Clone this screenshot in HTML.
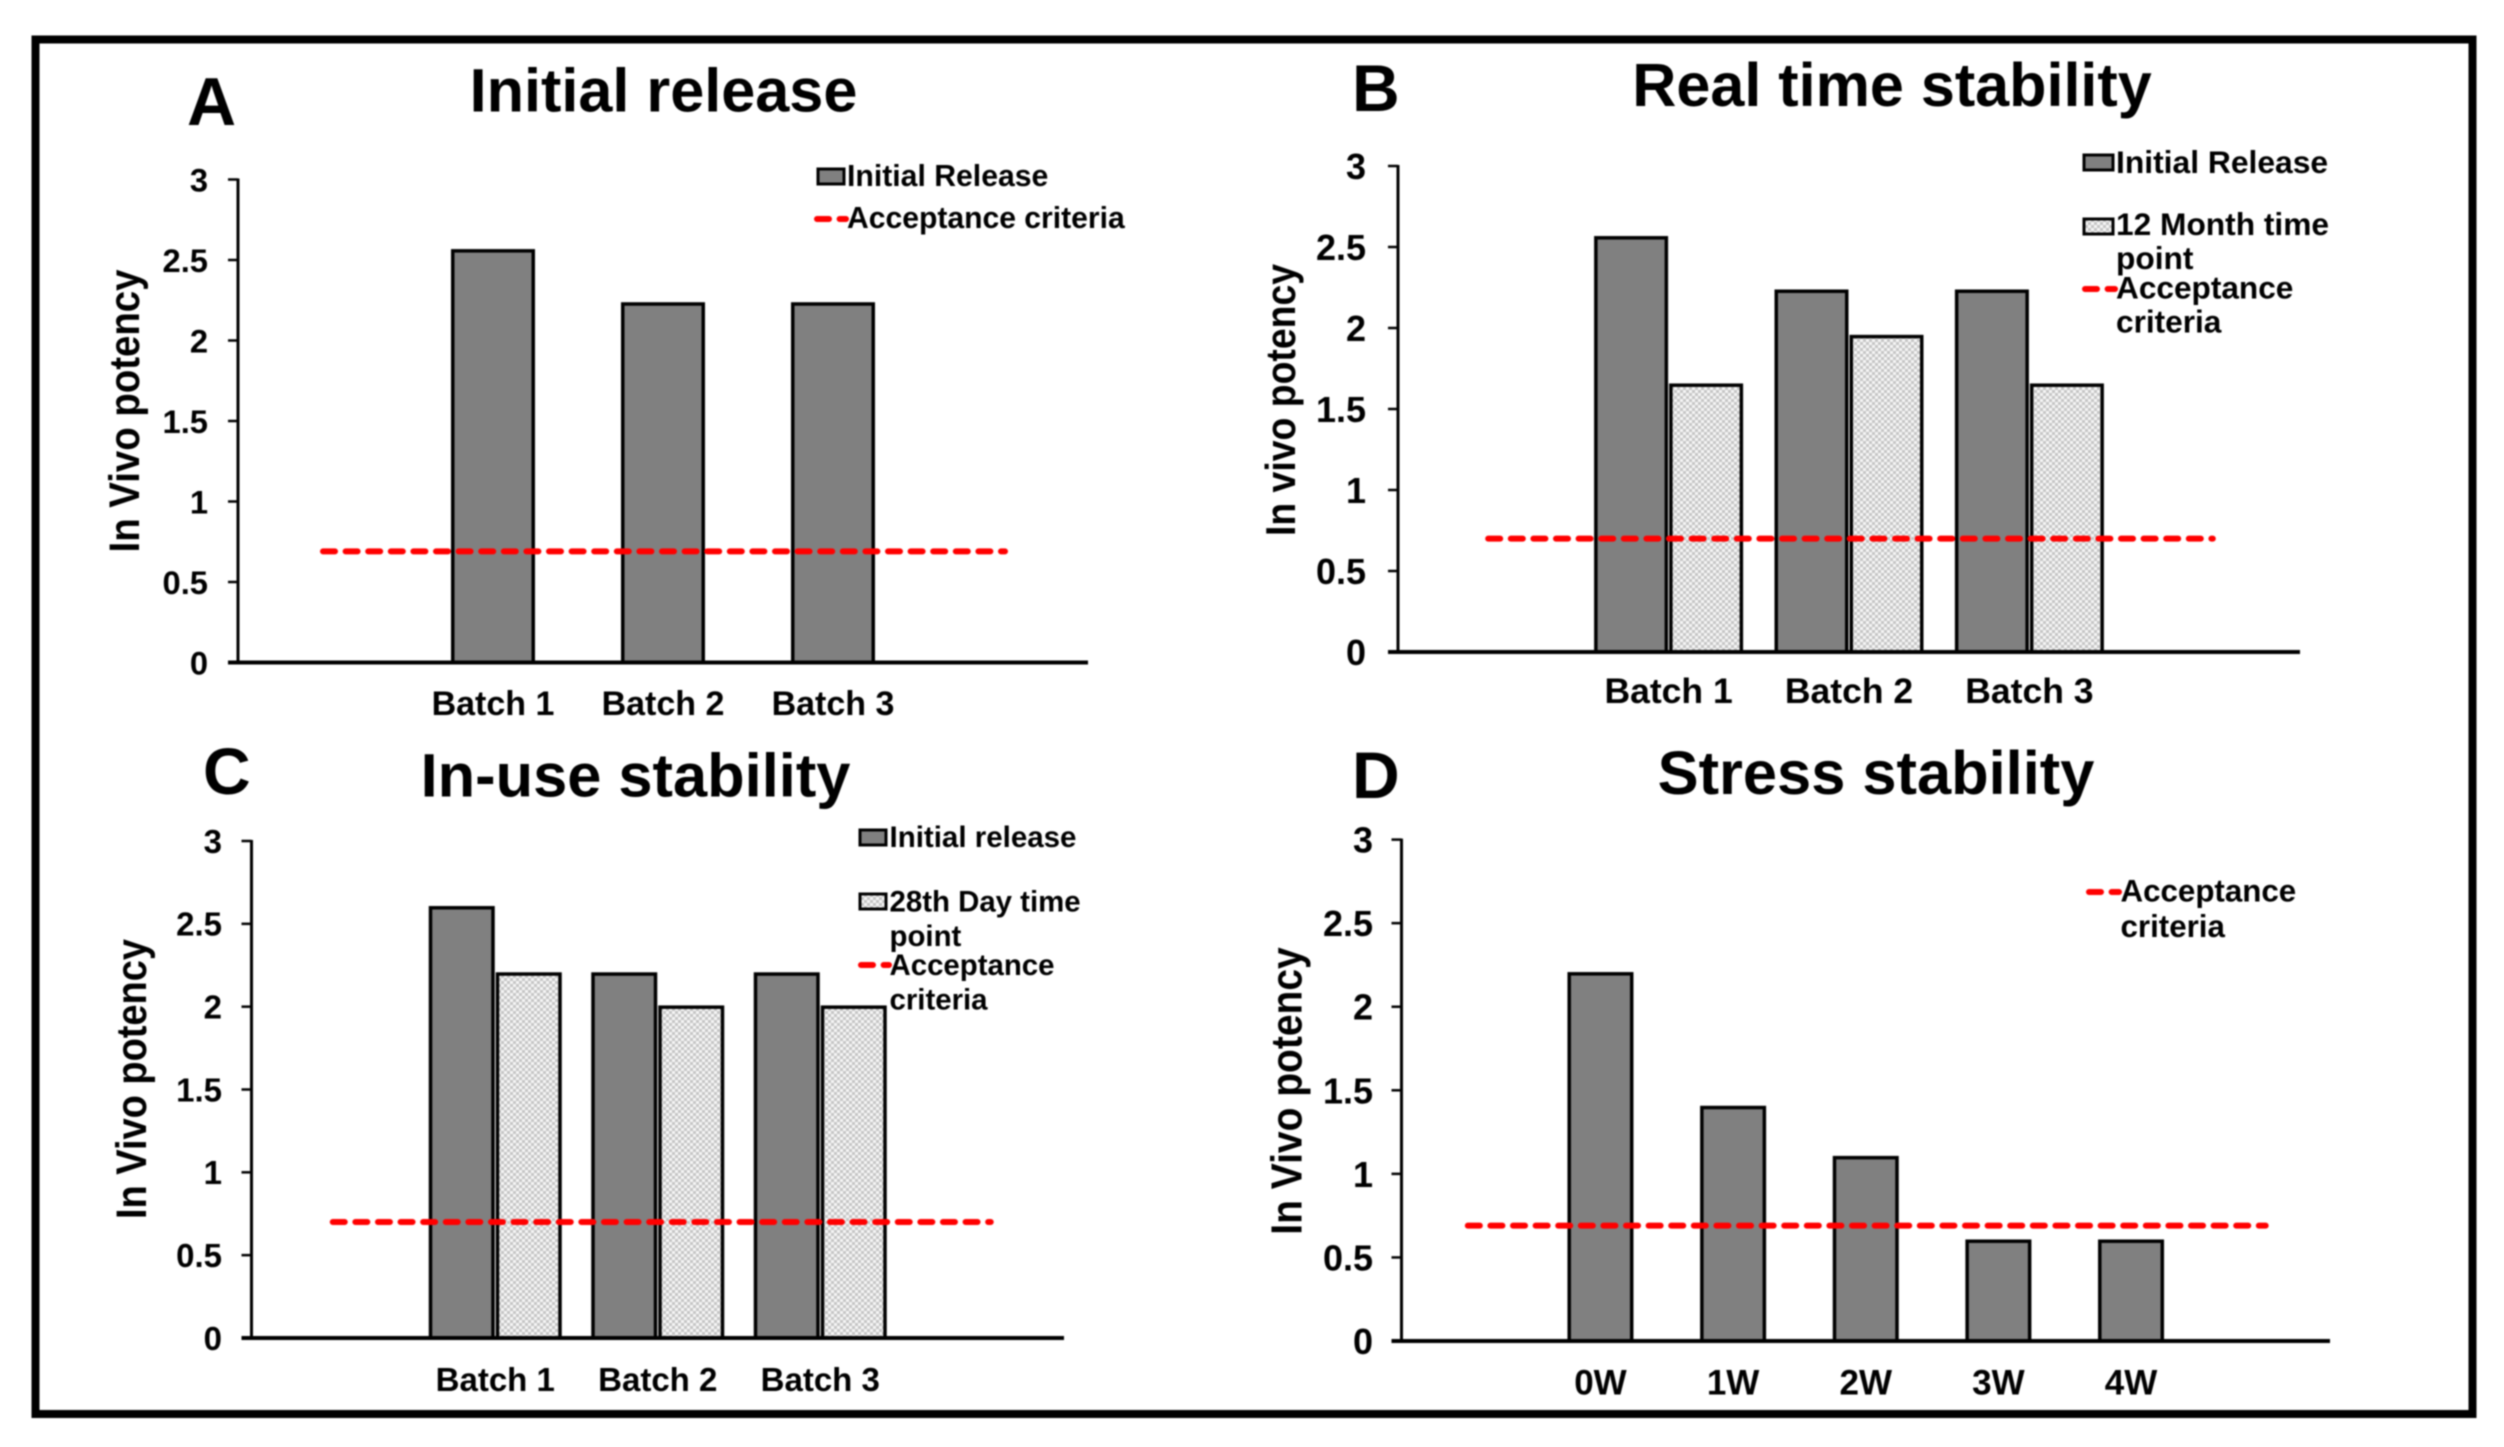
<!DOCTYPE html>
<html lang="en">
<head>
<meta charset="utf-8">
<title>Potency stability charts</title>
<style>
html,body{margin:0;padding:0;background:#fff;width:2504px;height:1447px;overflow:hidden}
svg{display:block;filter:blur(0.7px)}
text{font-family:"Liberation Sans",Arial,sans-serif;font-weight:700;fill:#000}
</style>
</head>
<body>
<svg id="figure" xmlns="http://www.w3.org/2000/svg" width="2504" height="1447" viewBox="0 0 2504 1447">
  <defs>
    <pattern id="dots" width="6" height="6" patternUnits="userSpaceOnUse">
      <rect width="6" height="6" fill="#f6f6f6"/>
      <rect width="3" height="3" fill="#c4c4c4"/>
      <rect x="3" y="3" width="3" height="3" fill="#c4c4c4"/>
    </pattern>
  </defs>
  <rect x="0" y="0" width="2504" height="1447" fill="#fff"/>
  <rect x="35.5" y="39.5" width="2437" height="1374.5" fill="none" stroke="#000" stroke-width="8"/>

  <g>
    <text x="187" y="125" font-size="68">A</text>
    <text x="663.5" y="111.5" font-size="61.2" text-anchor="middle">Initial release</text>
    <text transform="translate(139 411) rotate(-90) scale(1 1.12)" font-size="38.4" text-anchor="middle">In Vivo potency</text>
    <g>
      <rect x="818" y="169" width="26" height="15" fill="#808080" stroke="#000" stroke-width="3"/>
      <text x="847" y="186" font-size="30.2">Initial Release</text>
      <line x1="817" y1="219" x2="846" y2="219" stroke="#f00" stroke-width="6" stroke-dasharray="12 10.6" stroke-linecap="round"/>
      <text x="847" y="228" font-size="30.1">Acceptance criteria</text>
    </g>
  </g>

  <g>
    <text x="1352" y="111" font-size="66">B</text>
    <text x="1892" y="106" font-size="61.1" text-anchor="middle">Real time stability</text>
    <text transform="translate(1295 400) rotate(-90) scale(1 1.12)" font-size="37.4" text-anchor="middle">In vivo potency</text>
    <g>
      <rect x="2084" y="155" width="29" height="15" fill="#808080" stroke="#000" stroke-width="3"/>
      <text x="2116" y="173" font-size="31.8">Initial Release</text>
      <rect x="2084" y="219" width="29" height="15" fill="url(#dots)" stroke="#000" stroke-width="3"/>
      <text x="2116" y="235" font-size="31.7">12 Month time</text>
      <text x="2116" y="269" font-size="31.7">point</text>
      <line x1="2085" y1="289" x2="2115" y2="289" stroke="#f00" stroke-width="6" stroke-dasharray="12 10.6" stroke-linecap="round"/>
      <text x="2116" y="298.5" font-size="31.6">Acceptance</text>
      <text x="2116" y="332.5" font-size="31.6">criteria</text>
    </g>
  </g>

  <g>
    <text x="203" y="794" font-size="66">C</text>
    <text x="635.5" y="796.5" font-size="61.4" text-anchor="middle">In-use stability</text>
    <text transform="translate(146 1079) rotate(-90) scale(1 1.12)" font-size="38" text-anchor="middle">In Vivo potency</text>
    <g>
      <rect x="860" y="830" width="26" height="15" fill="#808080" stroke="#000" stroke-width="3"/>
      <text x="889.5" y="847" font-size="29.5">Initial release</text>
      <rect x="860" y="894" width="26" height="15" fill="url(#dots)" stroke="#000" stroke-width="3"/>
      <text x="889.5" y="911.5" font-size="29.4">28th Day time</text>
      <text x="889.5" y="946" font-size="29.4">point</text>
      <line x1="861" y1="965" x2="889" y2="965" stroke="#f00" stroke-width="6" stroke-dasharray="12 10.6" stroke-linecap="round"/>
      <text x="889.5" y="975" font-size="29.4">Acceptance</text>
      <text x="889.5" y="1009.5" font-size="29.4">criteria</text>
    </g>
  </g>

  <g>
    <text x="1352" y="798" font-size="66">D</text>
    <text x="1876" y="794" font-size="61.4" text-anchor="middle">Stress stability</text>
    <text transform="translate(1301.5 1091) rotate(-90) scale(1 1.12)" font-size="39" text-anchor="middle">In Vivo potency</text>
    <g>
      <line x1="2089" y1="892" x2="2119" y2="892" stroke="#f00" stroke-width="6" stroke-dasharray="12 10.6" stroke-linecap="round"/>
      <text x="2120.5" y="901.5" font-size="31.3">Acceptance</text>
      <text x="2120.5" y="937" font-size="31.3">criteria</text>
    </g>
  </g>
</svg>

<script>
// Axis tick values, shared by all panels
const yTicks = [0, 0.5, 1, 1.5, 2, 2.5, 3];
const yMax = 3;

// Panel A: Initial release
const categoriesA = ['', 'Batch 1', 'Batch 2', 'Batch 3', ''];
const initialA = [null, 2.56, 2.23, 2.23, null];
const acceptanceA = [0.69, 0.69, 0.69, 0.69, 0.69];

// Panel B: Real time stability
const categoriesB = ['', 'Batch 1', 'Batch 2', 'Batch 3', ''];
const initialB = [null, 2.56, 2.23, 2.23, null];
const monthB = [null, 1.65, 1.95, 1.65, null];
const acceptanceB = [0.7, 0.7, 0.7, 0.7, 0.7];

// Panel C: In-use stability
const categoriesC = ['', 'Batch 1', 'Batch 2', 'Batch 3', ''];
const initialC = [null, 2.6, 2.2, 2.2, null];
const dayC = [null, 2.2, 2, 2, null];
const acceptanceC = [0.7, 0.7, 0.7, 0.7, 0.7];

// Panel D: Stress stability
const categoriesD = ['', '0W', '1W', '2W', '3W', '4W', ''];
const stressD = [null, 2.2, 1.4, 1.1, 0.6, 0.6, null];
const acceptanceD = [0.69, 0.69, 0.69, 0.69, 0.69, 0.69, 0.69];

const SVG_NS = 'http://www.w3.org/2000/svg';
const figure = document.getElementById('figure');

function make(parent, tag, attrs) {
  const el = document.createElementNS(SVG_NS, tag);
  for (const k in attrs) el.setAttribute(k, attrs[k]);
  parent.appendChild(el);
  return el;
}

function drawPanel(p) {
  const n = p.categories.length;
  const band = (p.x1 - p.x0) / n;
  const xScale = function (i) { return p.x0 + band * (i + 0.5); };
  const yScale = function (v) { return p.y0 - (v / yMax) * (p.y0 - p.y3); };

  const group = make(figure, 'g', {});
  
  

  // Bars
  p.series.forEach(function (s, si) {
    s.values.forEach(function (v, i) {
      if (v === null) return;
      const cx = xScale(i) + (si - (p.series.length - 1) / 2) * p.barStep;
      const top = yScale(v);
      const bar = make(group, 'rect', {
        x: cx - p.barWidth / 2 + 1.75,
        y: top + 0.5,
        width: p.barWidth - 3.5,
        height: p.y0 - top - 0.5,
        fill: s.fill,
        stroke: '#000',
        'stroke-width': 3.5
      });
      
      
    });
  });

  // Acceptance line
  let d = '';
  p.acceptance.forEach(function (v, i) {
    const pad = i === n - 1 ? p.linePad : 0;
    d += (i ? 'L' : 'M') + (xScale(i) + pad) + ' ' + yScale(v);
  });
  const line = make(group, 'path', {
    d: d,
    fill: 'none',
    stroke: '#f00',
    'stroke-width': 6,
    'stroke-linecap': 'round',
    'stroke-dasharray': '12 10.6'
  });
  
  

  // Y axis
  const yAxis = make(group, 'line', {
    x1: p.x0, y1: p.y3 - 1, x2: p.x0, y2: p.y0, stroke: '#000', 'stroke-width': 3
  });
  
  

  yTicks.forEach(function (t) {
    const tick = make(group, 'line', {
      x1: p.x0 - 10, y1: yScale(t), x2: p.x0, y2: yScale(t), stroke: '#000', 'stroke-width': 2.5
    });
    
    
    const label = make(group, 'text', {
      x: p.tickRight,
      y: yScale(t) + p.tickFont * 0.36,
      'font-size': p.tickFont,
      'text-anchor': 'end'
    });
    
    
    label.textContent = String(t);
  });

  // X axis
  const xAxis = make(group, 'line', {
    x1: p.x0 - 10, y1: p.y0, x2: p.x1, y2: p.y0, stroke: '#000', 'stroke-width': 4
  });
  
  

  p.categories.forEach(function (c, i) {
    if (!c) return;
    const label = make(group, 'text', {
      x: xScale(i),
      y: p.labelBaseline,
      'font-size': p.labelFont,
      'text-anchor': 'middle'
    });
    
    
    label.textContent = c;
  });
}

drawPanel({
  id: 'a', categories: categoriesA, acceptance: acceptanceA,
  series: [{ key: 'initial', values: initialA, fill: '#808080' }],
  x0: 238, x1: 1088, y0: 662.5, y3: 179.5, barWidth: 84, barStep: 0, linePad: 2,
  tickRight: 208, tickFont: 32.7, labelBaseline: 715, labelFont: 34
});
drawPanel({
  id: 'b', categories: categoriesB, acceptance: acceptanceB,
  series: [
    { key: 'initial', values: initialB, fill: '#808080' },
    { key: '12-month', values: monthB, fill: 'url(#dots)' }
  ],
  x0: 1398, x1: 2300, y0: 652, y3: 166, barWidth: 74, barStep: 75, linePad: 3,
  tickRight: 1366, tickFont: 36, labelBaseline: 703, labelFont: 35.5
});
drawPanel({
  id: 'c', categories: categoriesC, acceptance: acceptanceC,
  series: [
    { key: 'initial', values: initialC, fill: '#808080' },
    { key: '28th-day', values: dayC, fill: 'url(#dots)' }
  ],
  x0: 251.5, x1: 1064, y0: 1338, y3: 841, barWidth: 66, barStep: 67, linePad: 8,
  tickRight: 222, tickFont: 33, labelBaseline: 1391, labelFont: 33
});
drawPanel({
  id: 'd', categories: categoriesD, acceptance: acceptanceD,
  series: [{ key: 'stress', values: stressD, fill: '#808080' }],
  x0: 1401.5, x1: 2330, y0: 1341, y3: 839.6, barWidth: 66, barStep: 0, linePad: 2,
  tickRight: 1373, tickFont: 36, labelBaseline: 1394.6, labelFont: 35
});
</script>
</body>
</html>
